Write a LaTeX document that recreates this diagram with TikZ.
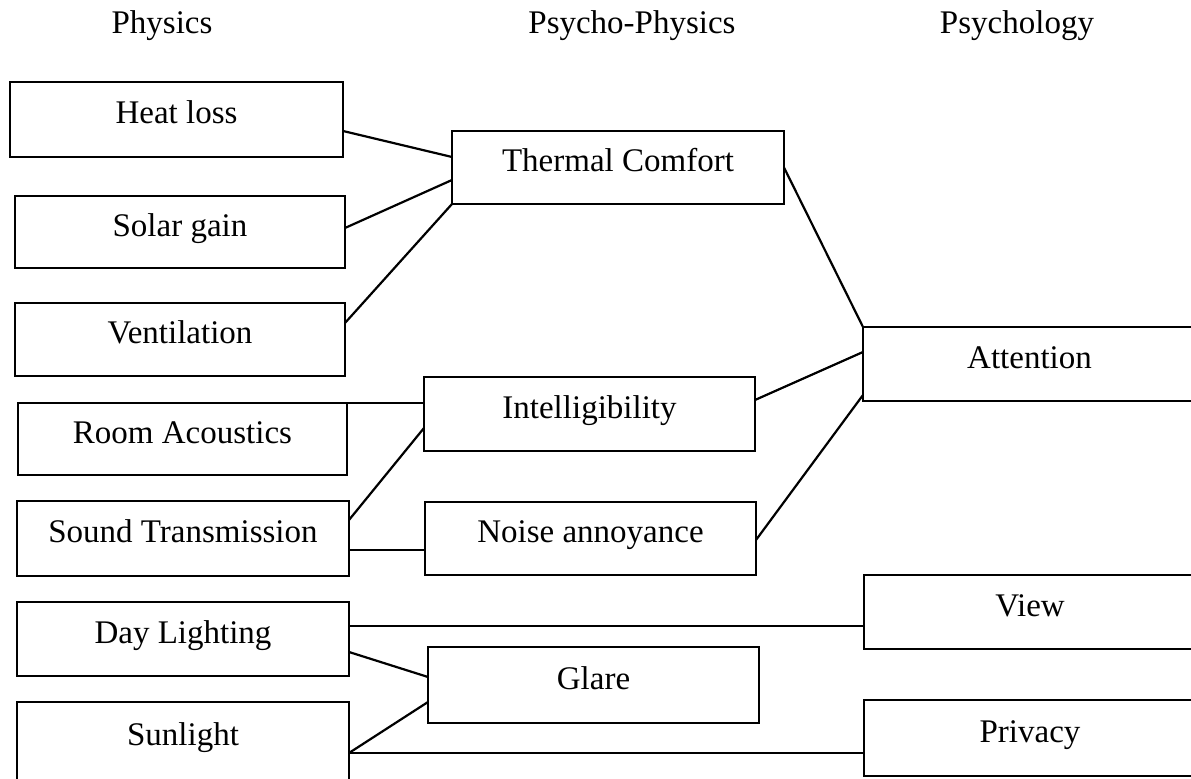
\documentclass[tikz,border=0pt]{standalone}
\usepackage{fontspec}
\setmainfont{Liberation Serif}
\usetikzlibrary{calc}
\begin{document}
\begin{tikzpicture}[x=0.5pt,y=-0.5pt,
  box/.style={draw, line width=1.3pt, rectangle, inner sep=0pt, outer sep=0pt,
    anchor=north west, text height=11.5pt, text depth=7pt,
    font=\fontsize{16.5}{20}\selectfont},
  sz/.style 2 args={minimum width=#1*0.5pt, minimum height=#2*0.5pt},
  head/.style={font=\fontsize{16.5}{20}\selectfont, anchor=base, inner sep=0pt},
  link/.style={line width=1.1pt}]
\useasboundingbox (0,0) rectangle (1191,779);
\clip (0,0) rectangle (1191,779);

% column headings
\node[head] (hphys) at (162,34) {Physics};
\node[head] (hpp)   at (632,34) {Psycho-Physics};
\node[head] (hpsy)  at (1017,34) {Psychology};

% physical factors
\node[box, sz={333}{75}] (heat)  at (10,82)  {Heat loss};
\node[box, sz={330}{72}] (solar) at (15,196) {Solar gain};
\node[box, sz={330}{73}] (vent)  at (15,303) {Ventilation};
\node[box, sz={329}{72}] (room)  at (18,403) {Room Acoustics};
\node[box, sz={332}{75}] (sound) at (17,501) {Sound Transmission};
\node[box, sz={332}{74}] (day)   at (17,602) {Day Lighting};
\node[box, sz={332}{79}] (sun)   at (17,702) {Sunlight};

% psycho-physical factors
\node[box, sz={332}{73}] (therm) at (452,131) {Thermal Comfort};
\node[box, sz={331}{74}] (intel) at (424,377) {Intelligibility};
\node[box, sz={331}{73}] (noise) at (425,502) {Noise annoyance};
\node[box, sz={331}{76}] (glare) at (428,647) {Glare};

% psychological factors
\node[box, sz={333}{74}] (att)  at (863,327) {Attention};
\node[box, sz={332}{74}] (view) at (864,575) {View};
\node[box, sz={332}{76}] (priv) at (864,700) {Privacy};

% links into thermal comfort
\draw[link] ($(heat.east)+(0,11.5)$)  -- ($(therm.west)+(0,-10.5)$);
\draw[link] ($(solar.east)+(0,-4)$)   -- ($(therm.west)+(0,12.5)$);
\draw[link] ($(vent.east)+(0,-16.5)$) -- (therm.south west);

% links into attention
\draw[link] (therm.east) -- (att.north west);
\draw[link] ($(intel.east)+(0,-14)$) -- ($(att.west)+(0,-12)$);
\draw[link] ($(noise.east)+(0,1.5)$) -- ($(att.west)+(0,31)$);

% acoustics
\draw[link] (room.north east) -- ($(intel.west)+(0,-11)$);
\draw[link] ($(sound.east)+(0,-18.5)$) -- ($(intel.west)+(0,14)$);
\draw[link] ($(sound.east)+(0,11.5)$) -- ($(noise.west)+(0,11.5)$);

% lighting
\draw[link] ($(day.east)+(0,-13)$) -- ($(view.west)+(0,14)$);
\draw[link] ($(day.east)+(0,13)$)  -- ($(glare.west)+(0,-8)$);
\draw[link] ($(sun.east)+(0,11.5)$) -- ($(glare.west)+(0,17)$);
\draw[link] ($(sun.east)+(0,11.5)$) -- ($(priv.west)+(0,15)$);
\end{tikzpicture}
\end{document}
